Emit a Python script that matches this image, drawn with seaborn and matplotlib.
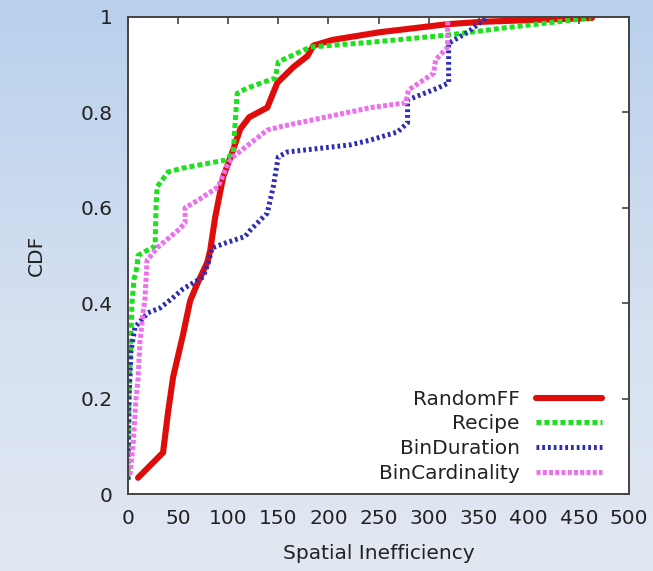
import numpy as np
import pandas as pd
import matplotlib
matplotlib.use("Agg")
import matplotlib.pyplot as plt
import seaborn as sns
from matplotlib.colors import LinearSegmentedColormap

# CDF curves of spatial inefficiency per placement scheme
randomff_x = [10, 35, 40, 45, 55, 62, 69, 79, 82, 87, 95, 103, 112, 121, 139, 149, 165, 179, 185, 204, 251, 319, 354, 463]
randomff_y = [0.034, 0.087, 0.172, 0.245, 0.335, 0.405, 0.44, 0.485, 0.51, 0.58, 0.665, 0.71, 0.765, 0.79, 0.81, 0.862, 0.895, 0.918, 0.94, 0.952, 0.968, 0.985, 0.99, 0.998]

recipe_x = [0, 1, 2, 4, 6, 9, 10, 27, 28, 29, 40, 54, 97, 105, 107, 109, 119, 147, 150, 182, 242, 319, 375, 462]
recipe_y = [0.03, 0.2, 0.27, 0.4, 0.45, 0.476, 0.5, 0.52, 0.6, 0.644, 0.675, 0.683, 0.7, 0.715, 0.78, 0.84, 0.851, 0.872, 0.906, 0.937, 0.947, 0.962, 0.977, 0.998]

binduration_x = [0, 1, 3, 7, 20, 32, 44, 55, 75, 80, 84, 97, 117, 122, 139, 145, 150, 159, 222, 242, 269, 279, 279, 309, 320, 320, 339, 359]
binduration_y = [0.03, 0.2, 0.3, 0.35, 0.38, 0.39, 0.41, 0.43, 0.455, 0.484, 0.516, 0.526, 0.54, 0.553, 0.589, 0.644, 0.707, 0.717, 0.732, 0.742, 0.759, 0.778, 0.826, 0.851, 0.862, 0.945, 0.968, 1.0]

bincard_x = [2, 5, 8, 10, 12, 15, 17, 19, 30, 50, 57, 57, 70, 90, 100, 105, 139, 152, 242, 277, 280, 305, 307, 319, 319]
bincard_y = [0.04, 0.1, 0.2, 0.24, 0.32, 0.38, 0.41, 0.49, 0.518, 0.553, 0.568, 0.6, 0.616, 0.644, 0.694, 0.707, 0.763, 0.77, 0.81, 0.82, 0.847, 0.882, 0.91, 0.937, 0.994]

series_names = ["RandomFF", "Recipe", "BinDuration", "BinCardinality"]
x_ticks = [0, 50, 100, 150, 200, 250, 300, 350, 400, 450, 500]
y_ticks = [0, 0.2, 0.4, 0.6, 0.8, 1]
y_tick_labels = ["0", "0.2", "0.4", "0.6", "0.8", "1"]

sns.set_theme(style="white")
plt.rcParams["font.family"] = ["DejaVu Sans"]

fig = plt.figure(figsize=(6.53, 5.71), dpi=100)

# soft blue slide background
bg = fig.add_axes([0, 0, 1, 1], zorder=-10)
grad = np.linspace(0, 1, 256).reshape(-1, 1)
cmap = LinearSegmentedColormap.from_list("bg", ["#b8d0ec", "#d3dff0", "#e2e8f2"])
bg.imshow(grad, aspect="auto", cmap=cmap, extent=[0, 1, 0, 1], origin="upper")
bg.axis("off")

ax = fig.add_axes([128 / 653, 77 / 571, 501 / 653, 477 / 571])
ax.set_facecolor("white")

frames = {
    "RandomFF": (randomff_x, randomff_y),
    "Recipe": (recipe_x, recipe_y),
    "BinDuration": (binduration_x, binduration_y),
    "BinCardinality": (bincard_x, bincard_y),
}
styles = {
    "RandomFF": dict(color="#e00c0c", lw=4.4, ls="-"),
    "Recipe": dict(color="#1ee01e", lw=3.6, ls=(0, (1.0, 0.6))),
    "BinDuration": dict(color="#2c2cb4", lw=3.6, ls=(0, (0.55, 0.6))),
    "BinCardinality": dict(color="#ee70ee", lw=3.6, ls=(0, (0.8, 0.45))),
}

for name in series_names:
    xs, ys = frames[name]
    df = pd.DataFrame({"x": xs, "y": ys})
    st = styles[name]
    sns.lineplot(data=df, x="x", y="y", ax=ax, sort=False, estimator=None,
                 color=st["color"], linewidth=st["lw"], linestyle=st["ls"],
                 label=name)

ax.set_xlim(0, 500)
ax.set_ylim(0, 1)
ax.set_xticks(x_ticks)
ax.set_xticklabels([str(t) for t in x_ticks])
ax.set_yticks(y_ticks)
ax.set_yticklabels(y_tick_labels)
ax.tick_params(direction="in", length=5, width=1.2, color="#444444",
               top=True, right=True, labelsize=14.5, labelcolor="#222222")
ax.tick_params(axis="x", pad=11)
ax.tick_params(axis="y", pad=11)
for sp in ax.spines.values():
    sp.set_color("#444444")
    sp.set_linewidth(1.4)

ax.set_xlabel("Spatial Inefficiency", fontsize=14.5, color="#222222")
ax.set_ylabel("CDF", fontsize=14.5, color="#222222")
ax.xaxis.set_label_coords(0.5, -0.105)
ax.yaxis.set_label_coords(-0.164, 0.5)

leg = ax.legend(loc="lower right", bbox_to_anchor=(0.963, 0.007), frameon=False,
                markerfirst=False, fontsize=14.5, handlelength=3.3,
                handletextpad=0.8, labelspacing=0.28, borderaxespad=0)
for t in leg.get_texts():
    t.set_color("#222222")

fig.savefig("out.png", dpi=100)
